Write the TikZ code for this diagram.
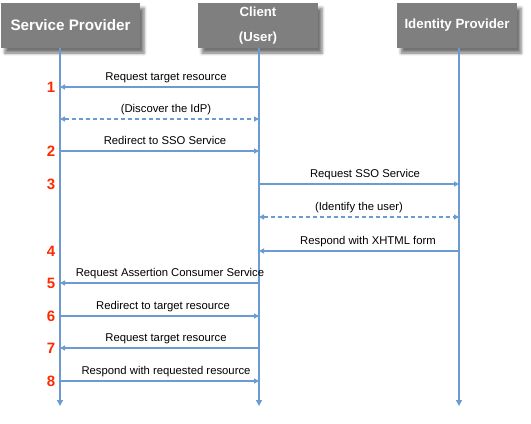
\documentclass[tikz,border=0pt]{standalone}
\usepackage{fontspec}
\setmainfont{Liberation Sans}
\usetikzlibrary{arrows.meta,shadows.blur}
\definecolor{lifeblue}{HTML}{6C9BD2}
\definecolor{hdrgray}{HTML}{7F7F7F}
\definecolor{numred}{HTML}{FF2A00}
\begin{document}
\begin{tikzpicture}[x=1bp,y=-1bp,
  hdr/.style={fill=hdrgray, draw=none, text=white, inner sep=0pt,
    minimum height=45bp, align=center,
    blur shadow={shadow xshift=4bp, shadow yshift=-5bp, shadow blur radius=3bp, shadow opacity=55}},
  life/.style={draw=lifeblue, line width=1.4bp, -{Triangle[length=6bp,width=6bp]}},
  msg/.style={draw=lifeblue, line width=1.3bp, -{Triangle[length=5bp,width=5bp]}},
  dmsg/.style={msg, {Triangle[length=5bp,width=5bp]}-{Triangle[length=5bp,width=5bp]}, dash pattern=on 4bp off 3bp},
  lbl/.style={anchor=base, inner sep=0pt, font=\fontsize{11.3bp}{13bp}\selectfont},
  num/.style={inner sep=0pt, text=numred, font=\fontsize{15bp}{17bp}\selectfont\bfseries}
]
\useasboundingbox (0,0) rectangle (531,423);
% header boxes
\node[hdr, minimum width=139bp, font=\fontsize{15.2bp}{17bp}\selectfont\bfseries] (sp) at (70.5,25.5) {Service Provider};
\node[hdr, minimum width=120bp, font=\fontsize{13.2bp}{25.5bp}\selectfont\bfseries] (cl) at (258,25.5) {Client\\(User)};
\node[hdr, minimum width=120bp, font=\fontsize{13.3bp}{16bp}\selectfont\bfseries] (idp) at (457,25.5) {Identity Provider};
% lifelines
\coordinate (spT) at (60,48);  \coordinate (spB) at (60,406);
\coordinate (clT) at (259,48); \coordinate (clB) at (259,406);
\coordinate (idT) at (459,48); \coordinate (idB) at (459,406);
\draw[life] (spT) -- (spB);
\draw[life] (clT) -- (clB);
\draw[life] (idT) -- (idB);
% message rows
\coordinate (r1) at (0,87);
\coordinate (r2) at (0,119);
\coordinate (r3) at (0,151);
\coordinate (r4) at (0,184);
\coordinate (r5) at (0,217);
\coordinate (r6) at (0,251);
\coordinate (r7) at (0,283);
\coordinate (r8) at (0,316);
\coordinate (r9) at (0,348);
\coordinate (r10) at (0,381);
\draw[msg]  (clT |- r1) -- (spT |- r1);
\draw[dmsg] (spT |- r2) -- (clT |- r2);
\draw[msg]  (spT |- r3) -- (clT |- r3);
\draw[msg]  (clT |- r4) -- (idT |- r4);
\draw[dmsg] (clT |- r5) -- (idT |- r5);
\draw[msg]  (idT |- r6) -- (clT |- r6);
\draw[msg]  (clT |- r7) -- (spT |- r7);
\draw[msg]  (spT |- r8) -- (clT |- r8);
\draw[msg]  (clT |- r9) -- (spT |- r9);
\draw[msg]  (spT |- r10) -- (clT |- r10);
% labels
\node[lbl] (t1) at (166,80) {Request target resource};
\node[lbl] (t2) at (166,112) {(Discover the IdP)};
\node[lbl] (t3) at (165,144) {Redirect to SSO Service};
\node[lbl] (t4) at (365,177) {Request SSO Service};
\node[lbl] (t5) at (359,210) {(Identify the user)};
\node[lbl] (t6) at (368,244) {Respond with XHTML form};
\node[lbl] (t7) at (170,276) {Request Assertion Consumer Service};
\node[lbl] (t8) at (163,309) {Redirect to target resource};
\node[lbl] (t9) at (166,341) {Request target resource};
\node[lbl] (t10) at (166,374) {Respond with requested resource};
% step numbers
\node[num] (n1) at (51,87) {1};
\node[num] (n2) at (51,151) {2};
\node[num] (n3) at (51,184) {3};
\node[num] (n4) at (51,251) {4};
\node[num] (n5) at (51,283) {5};
\node[num] (n6) at (51,316) {6};
\node[num] (n7) at (51,348) {7};
\node[num] (n8) at (51,381) {8};
\end{tikzpicture}
\end{document}
